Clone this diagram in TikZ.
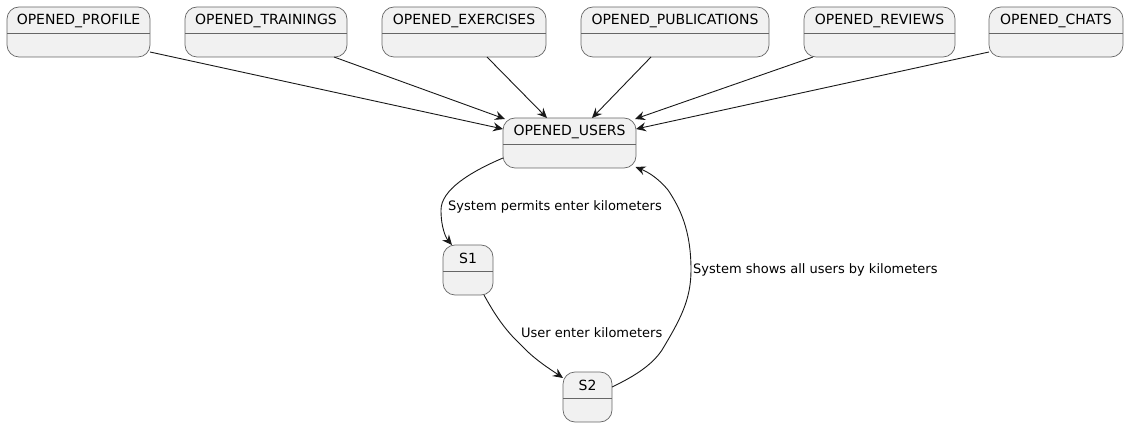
\documentclass[tikz,border=0pt]{standalone}
\usepackage{fontspec}
\setmainfont{DejaVu Sans}
\usetikzlibrary{arrows.meta}
\definecolor{boxfill}{HTML}{F1F1F1}
\definecolor{boxline}{HTML}{666666}
\definecolor{ink}{HTML}{181818}
\tikzset{
  statebox/.style={draw=boxline, line width=0.7pt, fill=boxfill, rounded corners=12pt,
    minimum height=50pt, inner sep=0pt, outer sep=0pt},
  stitle/.style={font=\fontsize{14}{16}\selectfont, text=black, inner sep=0pt},
  divider/.style={draw=boxline, line width=0.7pt},
  arr/.style={draw=ink, line width=0.9pt, -{Stealth[length=10pt,width=9pt,inset=3.5pt]}},
  elabel/.style={font=\fontsize{13}{15}\selectfont, text=black, inner sep=0pt, anchor=west}
}
\newcommand{\mkstate}[5]{%
  \node[statebox, minimum width=#4pt] (#1) at (#2,#3) {};
  \node[stitle] (#1-t) at ([yshift=-13.5pt]#1.north) {#5};
  \draw[divider] ([yshift=-26pt]#1.north west) -- ([yshift=-26pt]#1.north east);
}
\begin{document}
\begin{tikzpicture}[x=1pt,y=-1pt]
\useasboundingbox (0,0) rectangle (1129,427);
\mkstate{p}{78.5}{32}{143}{OPENED\_PROFILE}
\mkstate{t}{266}{32}{162}{OPENED\_TRAININGS}
\mkstate{e}{464}{32}{164}{OPENED\_EXERCISES}
\mkstate{pb}{675}{32}{188}{OPENED\_PUBLICATIONS}
\mkstate{r}{879.5}{32}{151}{OPENED\_REVIEWS}
\mkstate{c}{1056}{32}{134}{OPENED\_CHATS}
\mkstate{u}{569.5}{143}{133}{OPENED\_USERS}
\mkstate{s1}{468}{270}{50}{S1}
\mkstate{s2}{587.5}{397}{49}{S2}

\draw[arr] ([yshift=-20pt]p.east) -- ([yshift=14pt]u.west);
\draw[arr] ([xshift=68pt]t.south) -- ([xshift=2pt,yshift=-1pt]u.north west);
\draw[arr] ([xshift=23pt]e.south) -- ([xshift=-22.5pt]u.north);
\draw[arr] ([xshift=-24pt]pb.south) -- ([xshift=22.5pt]u.north);
\draw[arr] ([xshift=-66.5pt]r.south) -- ([xshift=-1pt,yshift=-1pt]u.north east);
\draw[arr] ([yshift=-20pt]c.west) -- ([yshift=14pt]u.east);

\draw[arr] ([yshift=-15pt]u.west) .. controls (470,172) and (441,190) .. (441,210)
  .. controls (441,228) and (446,238) .. ([xshift=-16pt]s1.north);
\draw[arr] ([xshift=16pt]s1.south) .. controls (495,315) and (505,330) .. (521,345)
  .. controls (535,360) and (550,369) .. ([yshift=-6pt]s2.north west);
\draw[arr] ([yshift=-15pt]s2.north east) .. controls (635,376) and (652,365) .. (662,350)
  .. controls (680,320) and (691,300) .. (691,270)
  .. controls (691,230) and (680,208) .. (668,190)
  .. controls (658,178) and (648,172) .. ([xshift=-0.5pt,yshift=1pt]u.south east);

\node[elabel] (l1) at (448,207) {System permits enter kilometers};
\node[elabel] (l2) at (521,333) {User enter kilometers};
\node[elabel] (l3) at (693,270) {System shows all users by kilometers};
\end{tikzpicture}
\end{document}
